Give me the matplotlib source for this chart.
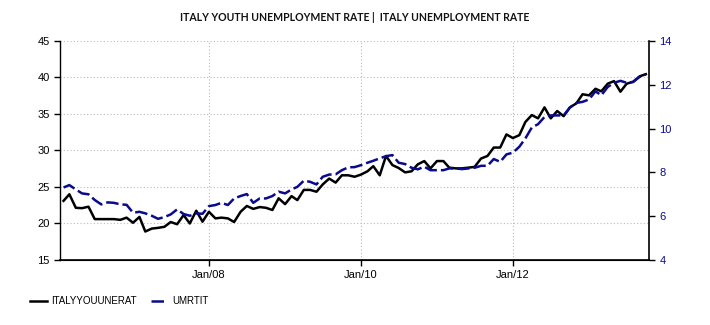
import numpy as np
import pandas as pd
import matplotlib
matplotlib.use("Agg")
from matplotlib import pyplot as plt

plt.rcParams['font.family'] = ['Liberation Sans', 'DejaVu Sans']

# monthly observations, Feb 2006 - Oct 2013
months = pd.date_range('2006-02-01', periods=93, freq='MS')

# youth unemployment rate (%), left axis
youth = [23.1, 24.0, 22.15, 22.1, 22.3, 20.6, 20.6, 20.6, 20.6, 20.5, 20.8, 20.1,
         20.9, 18.9, 19.3, 19.4, 19.55, 20.2, 19.9, 21.15, 20.0, 21.75, 20.25, 21.6,
         20.7, 20.8, 20.7, 20.2, 21.6, 22.4, 22.0, 22.25, 22.15, 21.85, 23.45, 22.65,
         23.75, 23.2, 24.6, 24.6, 24.35, 25.35, 26.15, 25.6, 26.6, 26.6, 26.4, 26.7,
         27.15, 27.85, 26.6, 29.25, 28.0, 27.6, 27.0, 27.15, 28.1, 28.55, 27.55, 28.55,
         28.55, 27.65, 27.55, 27.55, 27.65, 27.75, 28.9, 29.25, 30.4, 30.4, 32.2, 31.7,
         32.1, 33.9, 34.85, 34.4, 35.9, 34.4, 35.4, 34.7, 35.9, 36.45, 37.7, 37.55,
         38.45, 38.1, 39.15, 39.5, 38.05, 39.15, 39.4, 40.15, 40.45]

# total unemployment rate (%), right axis
total = [7.31, 7.42, 7.22, 7.04, 7.00, 6.74, 6.54, 6.63, 6.61, 6.54, 6.52, 6.16,
         6.20, 6.13, 6.02, 5.88, 5.96, 6.08, 6.31, 6.10, 6.02, 6.13, 6.11, 6.46,
         6.51, 6.61, 6.51, 6.81, 6.92, 7.01, 6.61, 6.81, 6.81, 6.92, 7.12, 7.04,
         7.22, 7.34, 7.62, 7.57, 7.45, 7.80, 7.90, 7.91, 8.10, 8.23, 8.24, 8.33,
         8.44, 8.53, 8.64, 8.74, 8.79, 8.44, 8.38, 8.21, 8.14, 8.26, 8.10, 8.10,
         8.10, 8.18, 8.18, 8.15, 8.18, 8.21, 8.30, 8.30, 8.61, 8.48, 8.82, 8.90,
         9.17, 9.55, 10.05, 10.20, 10.53, 10.60, 10.60, 10.60, 10.96, 11.17, 11.22, 11.33,
         11.70, 11.52, 11.90, 12.09, 12.18, 12.09, 12.13, 12.36, 12.48]

tick_dates = pd.to_datetime(['2008-01-01', '2010-01-01', '2012-01-01'])
tick_labels = ['Jan/08', 'Jan/10', 'Jan/12']

navy = '#0a0a8c'

fig = plt.figure(figsize=(7.1, 3.25), dpi=100)
ax = fig.add_axes([0.0845, 0.2, 0.8295, 0.674])
ax2 = ax.twinx()

l1, = ax.plot(months, youth, color='black', lw=1.8, label='ITALYYOUUNERAT', zorder=3)
l2, = ax2.plot(months, total, color=navy, lw=1.8, dashes=(5, 1.6), label='UMRTIT')

ax.set_ylim(15, 45)
ax.set_yticks(np.arange(15, 46, 5))
ax2.set_ylim(4, 14)
ax2.set_yticks(np.arange(4, 15, 2))
ax.set_xlim(pd.Timestamp('2006-01-15'), pd.Timestamp('2013-10-16'))
ax.set_xticks(tick_dates)
ax.set_xticklabels(tick_labels)

ax.grid(True, color='#bbbbbb', ls=(0, (1, 2)), lw=0.8)
ax.set_axisbelow(True)

for a in (ax, ax2):
    a.spines['top'].set_visible(False)
    a.tick_params(labelsize=8, length=4, width=1)
ax2.spines['left'].set_visible(False)
ax.spines['right'].set_visible(False)
ax2.spines['right'].set_linewidth(1.2)
ax.spines['bottom'].set_linewidth(1.2)
ax.spines['left'].set_linewidth(1.0)
ax2.tick_params(axis='y', colors='black', labelcolor=navy)

fig.text(0.5, 0.945, 'ITALY YOUTH UNEMPLOYMENT RATE |  ITALY UNEMPLOYMENT RATE',
         ha='center', va='center', fontsize=7.6, color='#111111',
         family=['Lato', 'DejaVu Sans'], fontweight='bold')

fig.legend(handles=[l1, l2], loc='lower left', bbox_to_anchor=(0.037, 0.045),
           ncol=2, frameon=False, fontsize=7, handlelength=1.7,
           columnspacing=1.4, handletextpad=0.5, borderaxespad=0)

fig.savefig('out.png', dpi=100)
